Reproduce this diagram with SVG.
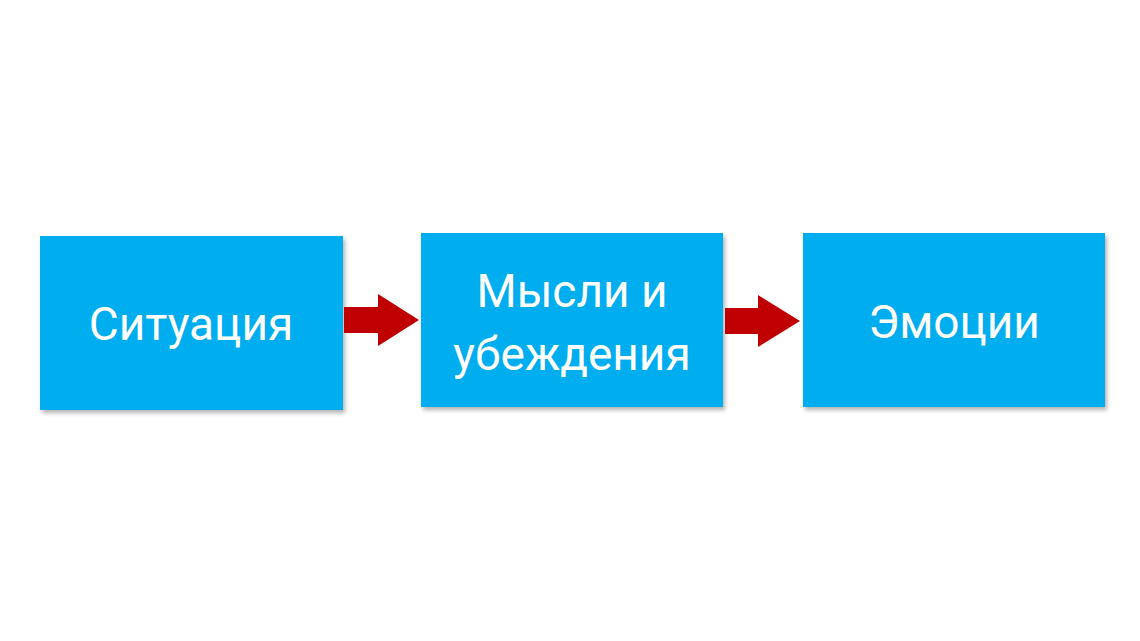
<svg xmlns="http://www.w3.org/2000/svg" width="1140" height="641" viewBox="0 0 1140 641">
<defs><filter id="sh" x="-5%" y="-5%" width="115%" height="115%"><feDropShadow dx="2" dy="3" stdDeviation="2" flood-color="#000" flood-opacity="0.3"/></filter></defs>
<style>.b{fill:#00adef;filter:url(#sh)}.t{fill:#fff;font-family:Roboto,"Liberation Sans",sans-serif;font-size:46px;text-anchor:middle}.a{fill:#c00000}</style>
<rect width="1140" height="641" fill="#fff"/>
<g id="n1"><rect class="b" x="40" y="236" width="303" height="174"/><text class="t" x="191" y="340">Ситуация</text></g>
<g id="n2"><rect class="b" x="421" y="233" width="302" height="174"/><text class="t" x="572" y="307">Мысли и</text><text class="t" x="572" y="370">убеждения</text></g>
<g id="n3"><rect class="b" x="803" y="233" width="302" height="174"/><text class="t" x="954" y="338">Эмоции</text></g>
<g id="connectors">
<polygon class="a" points="344,307 378,307 378,294 419,320 378,346 378,333 344,333"/>
<polygon class="a" points="725,308 758,308 758,295 800,321 758,347 758,334 725,334"/>
</g>
</svg>
